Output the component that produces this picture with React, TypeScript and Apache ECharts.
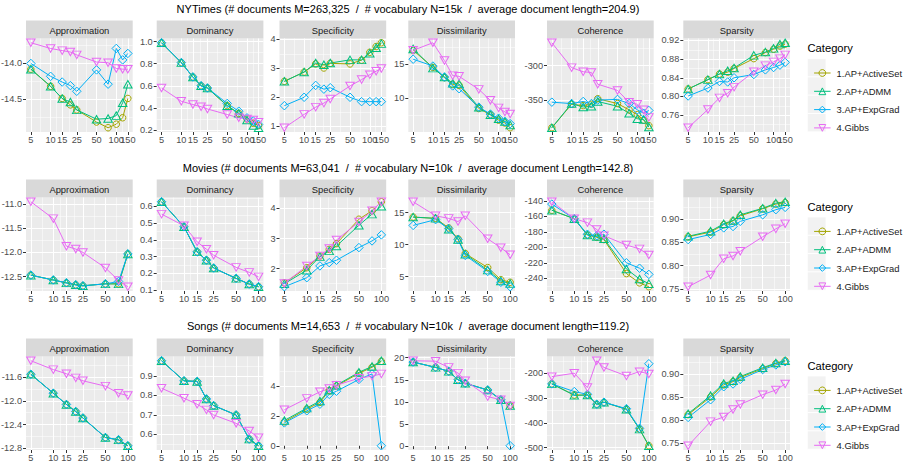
import React, { useEffect, useRef } from "react";
import * as echarts from "echarts";

const FONT = '"Liberation Sans", Arial, Helvetica, sans-serif';

const methods = ["1.AP+ActiveSet", "2.AP+ADMM", "3.AP+ExpGrad", "4.Gibbs"];
const metrics = ["Approximation", "Dominancy", "Specificity", "Dissimilarity", "Coherence", "Sparsity"];
const colors = ["#A3A500", "#00BF7D", "#00B0F6", "#E76BF3"];

// number of topics K on the (log10) horizontal axis
const nytTopics = [5, 10, 15, 20, 25, 50, 75, 100, 125, 150];
const smallTopics = [5, 10, 15, 20, 25, 50, 75, 100];
const nytTopicLabels = [5, 10, 15, 25, 50, 100, 150];
const smallTopicLabels = [5, 10, 15, 25, 50, 100];

// ---- NYTimes (rows: ActiveSet, ADMM, ExpGrad, Gibbs)
const nytApproximation = [
  [-14.08, -14.32, -14.49, -14.58, -14.65, -14.82, -14.9, -14.85, -14.76, -14.49],
  [-14.08, -14.32, -14.49, -14.54, -14.65, -14.78, -14.77, -14.73, -14.55, -14.29],
  [-14.0, -14.18, -14.26, -14.31, -14.39, -14.09, -14.29, -13.79, -13.95, -13.86],
  [-13.71, -13.79, -13.82, -13.84, -13.88, -13.98, -13.99, -14.07, -14.08, -14.08],
];
const nytDominancy = [
  [0.99, 0.81, 0.68, 0.6, 0.58, 0.42, 0.35, 0.3, 0.26, 0.24],
  [0.99, 0.81, 0.68, 0.6, 0.58, 0.42, 0.35, 0.29, 0.24, 0.22],
  [0.99, 0.81, 0.68, 0.6, 0.58, 0.44, 0.37, 0.31, 0.28, 0.25],
  [0.58, 0.46, 0.43, 0.41, 0.39, 0.34, 0.31, 0.3, 0.29, 0.27],
];
const nytSpecificity = [
  [2.55, 2.87, 3.15, 3.01, 3.17, 3.15, 3.28, 3.55, 3.75, 3.88],
  [2.55, 2.87, 3.18, 3.12, 3.18, 3.29, 3.29, 3.52, 3.71, 3.85],
  [1.71, 2.0, 2.41, 2.28, 2.33, 2.0, 1.85, 1.85, 1.85, 1.85],
  [0.95, 1.41, 1.66, 1.8, 1.94, 2.39, 2.61, 2.78, 2.9, 2.99],
];
const nytDissimilarity = [
  [17.0, 14.5, 13.0, 12.0, 11.9, 8.5, 7.6, 6.8, 6.4, 5.7],
  [17.2, 14.4, 13.1, 12.2, 12.1, 8.7, 7.6, 7.0, 6.6, 6.1],
  [15.7, 14.7, 13.1, 11.8, 11.4, 8.7, 7.7, 7.1, 6.6, 6.3],
  [17.0, 18.1, 15.5, 13.3, 13.2, 11.3, 9.7, 8.6, 8.0, 7.7],
];
const nytCoherence = [
  [-390, -356, -358, -356, -348, -355, -364, -371, -379, -387],
  [-390, -355, -360, -359, -352, -359, -369, -377, -378, -389],
  [-353, -355, -352, -355, -350, -349, -355, -364, -369, -365],
  [-267, -303, -309, -310, -327, -336, -353, -356, -364, -375],
];
const nytSparsity = [
  [0.816, 0.836, 0.848, 0.852, 0.86, 0.881, 0.894, 0.901, 0.908, 0.912],
  [0.816, 0.836, 0.848, 0.855, 0.861, 0.888, 0.895, 0.903, 0.912, 0.915],
  [0.801, 0.818, 0.832, 0.831, 0.84, 0.847, 0.857, 0.862, 0.867, 0.873],
  [0.733, 0.772, 0.797, 0.807, 0.82, 0.853, 0.866, 0.874, 0.881, 0.889],
];

// ---- Movies
const movApproximation = [
  [-12.47, -12.57, -12.63, -12.67, -12.69, -12.65, -12.65, -12.03],
  [-12.47, -12.57, -12.63, -12.67, -12.69, -12.65, -12.65, -12.03],
  [-12.47, -12.57, -12.63, -12.67, -12.69, -12.65, -12.6, -12.03],
  [-10.95, -11.3, -11.87, -11.93, -12.0, -12.32, -12.58, -12.71],
];
const movDominancy = [
  [0.628, 0.478, 0.328, 0.278, 0.231, 0.169, 0.135, 0.119],
  [0.628, 0.478, 0.328, 0.278, 0.231, 0.169, 0.135, 0.119],
  [0.628, 0.478, 0.328, 0.278, 0.231, 0.169, 0.135, 0.119],
  [0.554, 0.484, 0.388, 0.344, 0.308, 0.235, 0.205, 0.178],
];
const movSpecificity = [
  [1.53, 2.03, 2.42, 2.64, 2.83, 3.64, 3.92, 4.22],
  [1.5, 1.95, 2.4, 2.59, 2.75, 3.44, 3.81, 4.07],
  [1.4, 1.7, 2.09, 2.2, 2.28, 2.7, 2.92, 3.12],
  [1.51, 2.09, 2.42, 2.67, 2.95, 3.55, 3.92, 4.22],
];
const movDissimilarity = [
  [14.3, 14.1, 12.6, 10.9, 8.6, 6.4, 4.5, 4.1],
  [14.3, 14.1, 12.4, 10.8, 8.5, 6.0, 4.3, 3.9],
  [13.0, 13.9, 12.5, 10.8, 8.3, 5.8, 4.1, 3.4],
  [16.7, 14.5, 14.1, 13.6, 14.5, 10.9, 9.5, 8.4],
];
const movCoherence = [
  [-152, -163, -184, -187, -190, -234, -246, -251],
  [-152, -163, -184, -186, -189, -228, -241, -247],
  [-144, -163, -183, -185, -183, -220, -227, -235],
  [-141, -163, -168, -177, -185, -197, -202, -210],
];
const movSparsity = [
  [0.862, 0.872, 0.888, 0.896, 0.907, 0.922, 0.932, 0.935],
  [0.863, 0.874, 0.89, 0.897, 0.909, 0.923, 0.934, 0.937],
  [0.856, 0.867, 0.881, 0.884, 0.895, 0.909, 0.92, 0.925],
  [0.755, 0.78, 0.815, 0.821, 0.831, 0.862, 0.879, 0.89],
];

// ---- Songs
const sngApproximation = [
  [-11.55, -11.87, -12.06, -12.18, -12.29, -12.62, -12.66, -12.76],
  [-11.55, -11.87, -12.06, -12.18, -12.29, -12.62, -12.66, -12.76],
  [-11.55, -11.87, -12.06, -12.18, -12.29, -12.62, -12.66, -12.76],
  [-11.32, -11.47, -11.54, -11.61, -11.66, -11.75, -11.87, -11.91],
];
const sngDominancy = [
  [0.977, 0.874, 0.871, 0.781, 0.747, 0.699, 0.575, 0.541],
  [0.977, 0.874, 0.871, 0.781, 0.747, 0.699, 0.575, 0.541],
  [0.977, 0.874, 0.871, 0.781, 0.747, 0.699, 0.575, 0.541],
  [0.836, 0.785, 0.754, 0.725, 0.699, 0.656, 0.617, 0.582],
];
const sngSpecificity = [
  [1.6, 2.45, 2.9, 3.7, 4.0, 4.85, 5.25, 5.65],
  [1.69, 2.52, 3.0, 3.72, 4.05, 4.92, 5.31, 5.69],
  [1.53, 2.34, 2.78, 3.44, 3.65, 4.44, 4.81, 0.0],
  [2.41, 3.17, 3.61, 3.83, 4.05, 4.52, 4.66, 4.81],
];
const sngDissimilarity = [
  [19.0, 17.8, 16.9, 15.0, 14.2, 12.7, 10.5, 9.2],
  [19.0, 17.8, 16.9, 15.0, 14.2, 12.7, 10.5, 9.2],
  [19.0, 17.8, 16.9, 15.0, 14.2, 12.7, 10.5, 0.1],
  [19.3, 19.2, 17.8, 16.5, 14.8, 11.2, 10.5, 9.1],
];
const sngCoherence = [
  [-243, -288, -288, -325, -317, -345, -425, -492],
  [-243, -289, -288, -325, -317, -345, -425, -492],
  [-243, -274, -285, -325, -317, -343, -422, -162],
  [-214, -200, -258, -150, -177, -211, -194, -203],
];
const sngSparsity = [
  [0.812, 0.85, 0.876, 0.883, 0.892, 0.911, 0.922, 0.928],
  [0.814, 0.853, 0.879, 0.885, 0.894, 0.913, 0.923, 0.928],
  [0.806, 0.844, 0.872, 0.878, 0.888, 0.909, 0.919, 0.926],
  [0.745, 0.797, 0.807, 0.823, 0.834, 0.855, 0.865, 0.878],
];

// y tick labels of each facet
const nytTicks = [
  ["-14.5", "-14.0"],
  ["0.2", "0.4", "0.6", "0.8", "1.0"],
  ["1", "2", "3", "4"],
  ["10", "15"],
  ["-350", "-300"],
  ["0.76", "0.80", "0.84", "0.88", "0.92"],
];
const movTicks = [
  ["-12.5", "-12.0", "-11.5", "-11.0"],
  ["0.1", "0.2", "0.3", "0.4", "0.5", "0.6"],
  ["2", "3", "4"],
  ["5", "10", "15"],
  ["-240", "-220", "-200", "-180", "-160", "-140"],
  ["0.75", "0.80", "0.85", "0.90"],
];
const sngTicks = [
  ["-12.8", "-12.4", "-12.0", "-11.6"],
  ["0.6", "0.7", "0.8", "0.9"],
  ["0", "2", "4"],
  ["0", "5", "10", "15", "20"],
  ["-500", "-400", "-300", "-200"],
  ["0.75", "0.80", "0.85", "0.90"],
];

const rowTitles = [
  "NYTimes (# documents M=263,325  /  # vocabulary N=15k  /  average document length=204.9)",
  "Movies (# documents M=63,041  /  # vocabulary N=10k  /  average document Length=142.8)",
  "Songs (# documents M=14,653  /  # vocabulary N=10k  /  average document length=119.2)",
];

const rows = [
  {
    title: rowTitles[0],
    topics: nytTopics,
    topicLabels: nytTopicLabels,
    panels: [nytApproximation, nytDominancy, nytSpecificity, nytDissimilarity, nytCoherence, nytSparsity],
    ticks: nytTicks,
  },
  {
    title: rowTitles[1],
    topics: smallTopics,
    topicLabels: smallTopicLabels,
    panels: [movApproximation, movDominancy, movSpecificity, movDissimilarity, movCoherence, movSparsity],
    ticks: movTicks,
  },
  {
    title: rowTitles[2],
    topics: smallTopics,
    topicLabels: smallTopicLabels,
    panels: [sngApproximation, sngDominancy, sngSpecificity, sngDissimilarity, sngCoherence, sngSparsity],
    ticks: sngTicks,
  },
];

// facet geometry
const panelLefts = [26, 156.7, 279.5, 408.3, 547, 683.3];
const panelWidth = 106.7;
const stripTops = [20.5, 179.5, 338.5];
const stripHeight = 18;
const panelHeight = 93.5;
const titleCenters = [8.5, 167.5, 326.2];
const legendKeyTops = [58.6, 217, 376];
const keyHeight = 18.3;
const legendIconHeight = 8.5;

const symbols = [
  { symbol: "circle", size: 6.5, rotate: 0 },
  { symbol: "triangle", size: [8.5, 7.5], rotate: 0 },
  { symbol: "diamond", size: 8.5, rotate: 0 },
  { symbol: "triangle", size: [8.5, 7.5], rotate: 180 },
];

function minorBreaks(major: number[], lo: number, hi: number) {
  const step = major.length > 1 ? major[1] - major[0] : hi - lo;
  const ext = [major[0] - step, ...major, major[major.length - 1] + step];
  const out: number[] = [];
  for (let i = 0; i < ext.length - 1; i++) out.push((ext[i] + ext[i + 1]) / 2);
  return out.filter((v) => v > lo && v < hi);
}

function expandRange(values: number[]) {
  const lo = Math.min(...values);
  const hi = Math.max(...values);
  const pad = (hi - lo) * 0.05;
  return [lo - pad, hi + pad];
}

function buildOption() {
  const grid: any[] = [];
  const xAxis: any[] = [];
  const yAxis: any[] = [];
  const series: any[] = [];
  const graphic: any[] = [];
  const legend: any[] = [];

  const axisText = { color: "#4D4D4D", fontSize: 9.2, fontFamily: FONT };
  const tickStyle = { color: "#333333", width: 1 };
  const topicFormatter = (v: number) => String(Math.round(Math.pow(10, v)));

  rows.forEach((row, r) => {
    graphic.push({
      type: "text",
      x: 408,
      y: titleCenters[r],
      style: {
        text: row.title,
        fill: "#000000",
        fontSize: 11,
        fontFamily: FONT,
        align: "center",
        verticalAlign: "middle",
      },
    });

    const lx = row.topics.map((t) => Math.log10(t));
    const [xMin, xMax] = expandRange(lx);
    const xMajor = row.topicLabels.map((t) => Math.log10(t));
    // the last label sits on its own axis so crowded labels are all kept
    const xLabelsMain = xMajor.slice(0, -1);
    const xLabelsLast = xMajor.slice(-1);
    // minor grid lines halfway between the log-spaced breaks
    const xMinor: number[] = [];
    for (let i = 0; i < xMajor.length - 1; i++) xMinor.push((xMajor[i] + xMajor[i + 1]) / 2);

    row.panels.forEach((panel, p) => {
      const g = grid.length;
      const top = stripTops[r] + stripHeight;
      grid.push({
        left: panelLefts[p],
        top,
        width: panelWidth,
        height: panelHeight,
        show: true,
        backgroundColor: "#EBEBEB",
        borderWidth: 0,
        containLabel: false,
        outerBoundsMode: "none",
      });

      // facet strip
      graphic.push({
        type: "rect",
        shape: { x: panelLefts[p], y: stripTops[r], width: panelWidth, height: stripHeight },
        style: { fill: "#D9D9D9" },
        silent: true,
      });
      graphic.push({
        type: "text",
        x: panelLefts[p] + panelWidth / 2,
        y: stripTops[r] + stripHeight / 2 + 0.5,
        style: {
          text: metrics[p],
          fill: "#1A1A1A",
          fontSize: 9.4,
          fontFamily: FONT,
          align: "center",
          verticalAlign: "middle",
        },
        silent: true,
      });

      const labels = row.ticks[p];
      const yMajor = labels.map((s) => parseFloat(s));
      const dec = labels[0].includes(".") ? labels[0].split(".")[1].length : 0;
      const [yMin, yMax] = expandRange(panel.flat());
      const yMinor = minorBreaks(yMajor, yMin, yMax);

      const xi = xAxis.length;
      xAxis.push({
        type: "value",
        gridIndex: g,
        min: xMin,
        max: xMax,
        position: "bottom",
        axisLine: { show: false },
        axisTick: { show: true, length: 3, lineStyle: tickStyle, customValues: xMajor },
        axisLabel: {
          show: true,
          customValues: xLabelsMain,
          hideOverlap: false,
          showMinLabel: true,
          showMaxLabel: true,
          margin: 3.5,
          formatter: topicFormatter,
          ...axisText,
        },
        splitLine: { show: true, lineStyle: { color: "#FFFFFF", width: 1 } },
      });
      xAxis.push({
        type: "value",
        gridIndex: g,
        min: xMin,
        max: xMax,
        position: "bottom",
        axisLine: { show: false },
        axisLabel: {
          show: true,
          customValues: xLabelsLast,
          hideOverlap: false,
          showMinLabel: true,
          showMaxLabel: true,
          margin: 3.5,
          formatter: topicFormatter,
          ...axisText,
        },
        axisTick: { show: false, customValues: xMinor },
        splitLine: { show: true, lineStyle: { color: "#FFFFFF", width: 0.5 } },
      });

      const yi = yAxis.length;
      yAxis.push({
        type: "value",
        gridIndex: g,
        min: yMin,
        max: yMax,
        position: "left",
        axisLine: { show: false },
        axisTick: { show: true, length: 3, lineStyle: tickStyle, customValues: yMajor },
        axisLabel: {
          show: true,
          customValues: yMajor,
          hideOverlap: false,
          showMinLabel: true,
          showMaxLabel: true,
          margin: 4,
          formatter: (v: number) => v.toFixed(dec),
          ...axisText,
        },
        splitLine: { show: true, lineStyle: { color: "#FFFFFF", width: 1 } },
      });
      yAxis.push({
        type: "value",
        gridIndex: g,
        min: yMin,
        max: yMax,
        position: "left",
        axisLine: { show: false },
        axisLabel: { show: false },
        axisTick: { show: false, customValues: yMinor },
        splitLine: { show: true, lineStyle: { color: "#FFFFFF", width: 0.5 } },
      });

      panel.forEach((vals, m) => {
        const sym = symbols[m];
        series.push({
          type: "line",
          name: methods[m],
          xAxisIndex: xi,
          yAxisIndex: yi,
          data: vals.map((v, i) => [Math.log10(row.topics[i]), v]),
          symbol: sym.symbol,
          symbolSize: sym.size,
          symbolRotate: sym.rotate,
          showAllSymbol: true,
          silent: true,
          lineStyle: { color: colors[m], width: 1 },
          itemStyle: { color: "rgba(0,0,0,0)", borderColor: colors[m], borderWidth: 1 },
          emphasis: { disabled: true },
        });
      });
    });

    // legend: title, key backgrounds, one entry per method
    graphic.push({
      type: "text",
      x: 807.5,
      y: legendKeyTops[r] - 10.5,
      style: {
        text: "Category",
        fill: "#000000",
        fontSize: 11.2,
        fontFamily: FONT,
        align: "left",
        verticalAlign: "middle",
      },
    });
    methods.forEach((name, k) => {
      const keyTop = legendKeyTops[r] + k * keyHeight;
      graphic.push({
        type: "rect",
        shape: { x: 807.3, y: keyTop, width: 18.7, height: keyHeight },
        style: { fill: "#F2F2F2", stroke: "#FFFFFF", lineWidth: 0.8 },
        silent: true,
      });
      legend.push({
        orient: "vertical",
        left: 808.6,
        top: keyTop + keyHeight / 2 - legendIconHeight / 2,
        itemWidth: 16.5,
        itemHeight: legendIconHeight,
        selectedMode: false,
        data: [name],
        lineStyle: { width: 1 },
        itemStyle: { borderWidth: 1 },
        textStyle: {
          fontSize: 9.4,
          fontFamily: FONT,
          color: "#1A1A1A",
          lineHeight: legendIconHeight,
          padding: [0, 0, 0, 1],
        },
      });
    });
  });

  return {
    animation: false,
    backgroundColor: "#FFFFFF",
    textStyle: { fontFamily: FONT },
    grid,
    xAxis,
    yAxis,
    series,
    legend,
    graphic,
  };
}

export default function App() {
  const ref = useRef<HTMLDivElement>(null);
  useEffect(() => {
    if (!ref.current) return;
    const chart = echarts.init(ref.current, undefined, { renderer: "svg" });
    chart.setOption(buildOption() as any);
    return () => chart.dispose();
  }, []);
  return (
    <div
      ref={ref}
      style={{ position: "absolute", left: 0, top: 0, width: 903, height: 468 }}
    />
  );
}
